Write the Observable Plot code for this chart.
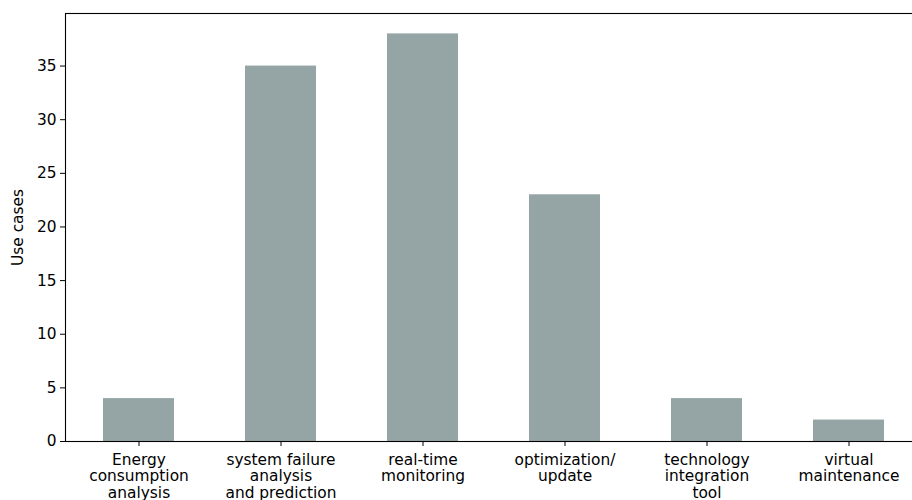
<!DOCTYPE html>
<html>
<head>
<meta charset="utf-8">
<script src="https://cdn.jsdelivr.net/npm/d3@7"></script>
<script src="https://cdn.jsdelivr.net/npm/@observablehq/plot@0.6"></script>
<style>
  body { margin: 0; background: white; }
  #chart { width: 912px; height: 500px; overflow: hidden; }
  #chart svg { max-width: none !important; width: 921px !important; height: 500px !important; }
</style>
</head>
<body>
<div id="chart"></div>
<script>
const categories = ["energy", "failure", "realtime", "optimization", "technology", "virtual"];
const tickLabels = [
  "Energy\nconsumption\nanalysis",
  "system failure\nanalysis\nand prediction",
  "real-time\nmonitoring",
  "optimization/\nupdate",
  "technology\nintegration\ntool",
  "virtual\nmaintenance"
];
const useCases = [4, 35, 38, 23, 4, 2];
const yTicks = [0, 5, 10, 15, 20, 25, 30, 35];
const yLabel = "Use cases";

const data = categories.map((c, i) => ({category: c, value: useCases[i]}));
const labelOf = new Map(categories.map((c, i) => [c, tickLabels[i]]));

const chart = Plot.plot({
  width: 921,
  height: 500,
  marginLeft: 65,
  marginRight: 0,
  marginTop: 13,
  marginBottom: 59,
  style: {fontFamily: "DejaVu Sans", fontSize: "15.4px", color: "black", background: "white", overflow: "hidden"},
  x: {domain: categories, paddingInner: 0.5, paddingOuter: 0.25, label: null},
  y: {domain: [0, 39.9], label: null},
  marks: [
    Plot.barY(data, {x: "category", y: "value", fill: "#95a5a6"}),
    Plot.frame({stroke: "black", strokeWidth: 1.1}),
    Plot.axisY({ticks: yTicks, tickSize: 5, tickPadding: 4, label: null, stroke: "black"}),
    Plot.axisX({tickSize: 5, tickPadding: 6.5, lineHeight: 1.08, tickFormat: d => labelOf.get(d), label: null, stroke: "black"}),
    Plot.text([yLabel], {frameAnchor: "left", textAnchor: "middle", dx: -47, rotate: -90, fill: "black"})
  ]
});
document.getElementById("chart").appendChild(chart);
</script>
</body>
</html>
